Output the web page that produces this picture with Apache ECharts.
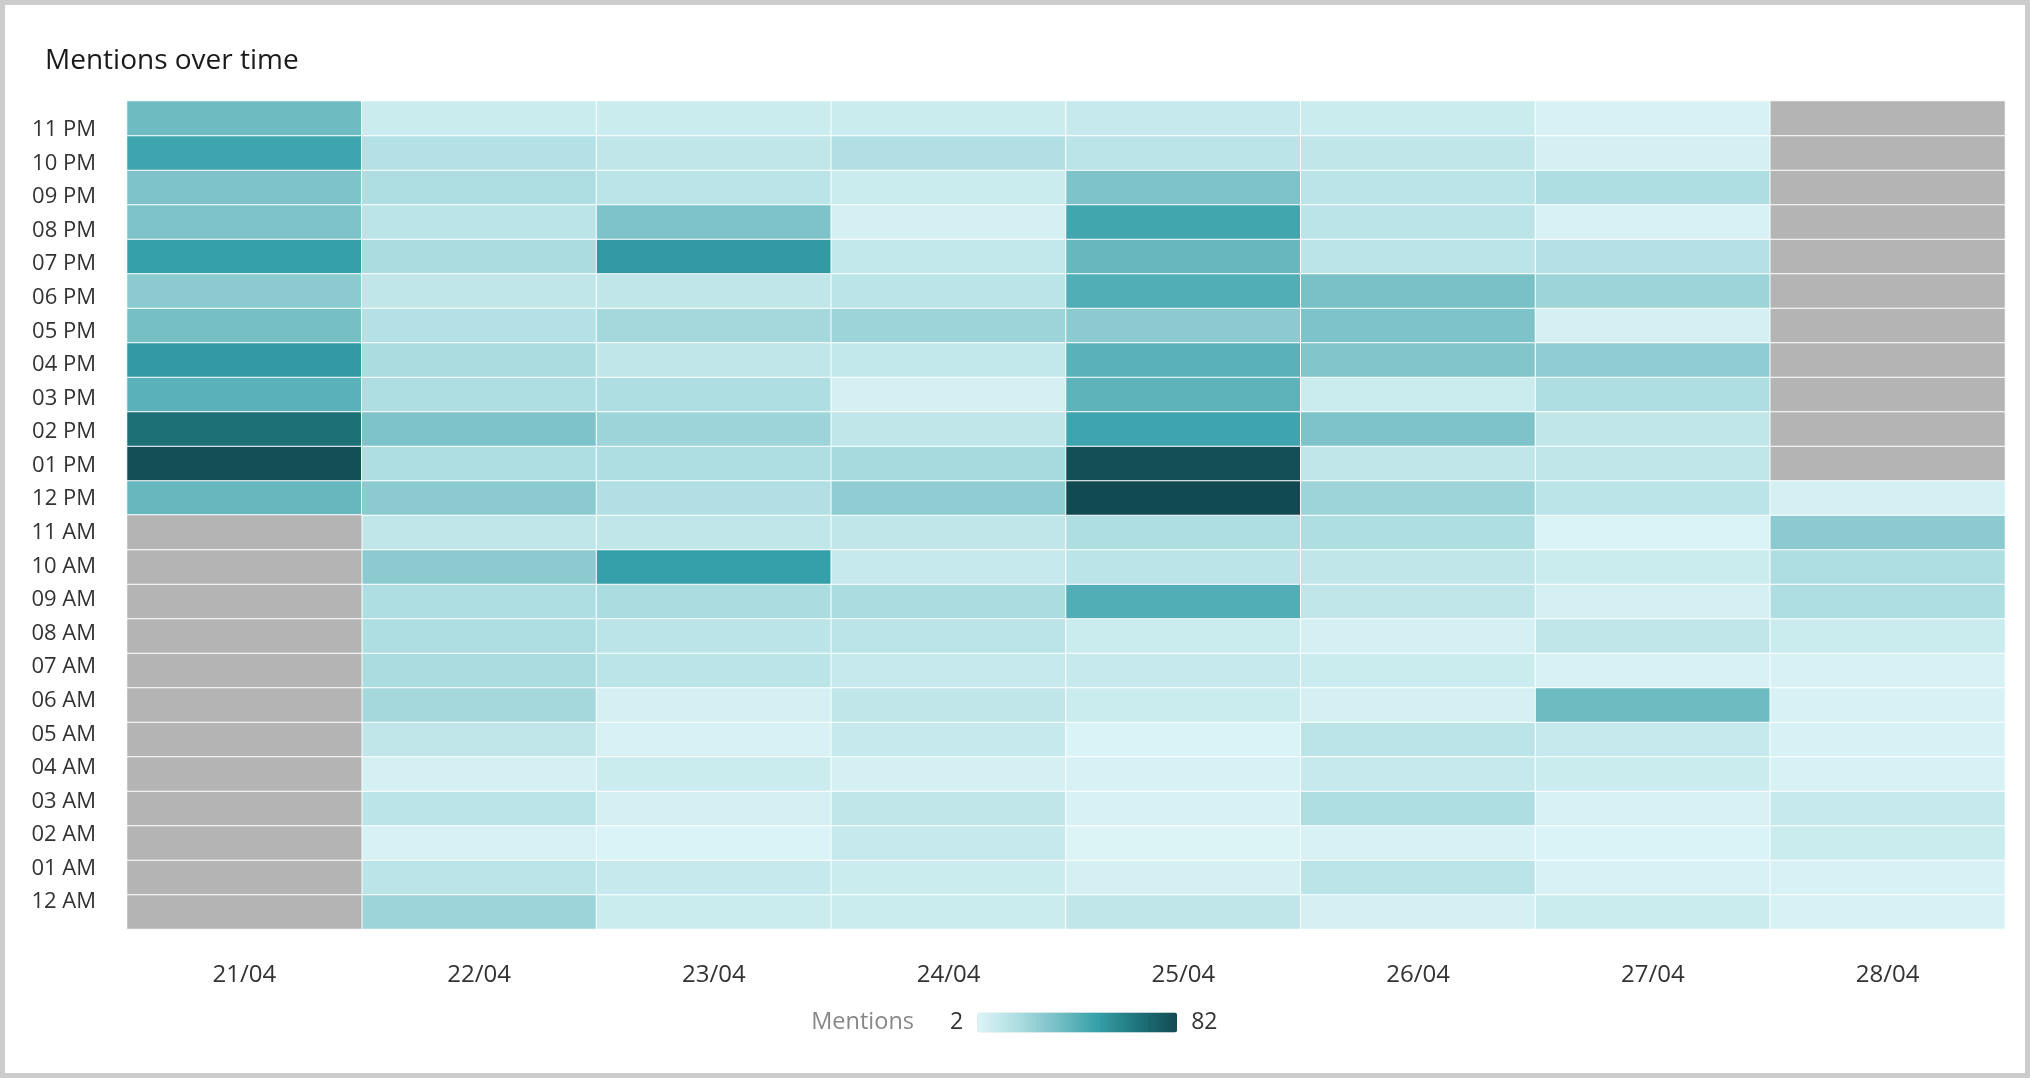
<!DOCTYPE html>
<html>
<head>
<meta charset="utf-8">
<script src="https://cdn.jsdelivr.net/npm/echarts@6/dist/echarts.min.js"></script>
<style>
html,body{margin:0;padding:0;background:#fff;}
#wrap{width:2030px;height:1078px;box-sizing:border-box;border:5px solid #cccccc;background:#fff;}
#chart{width:2020px;height:1068px;}
</style>
</head>
<body>
<div id="wrap"><div id="chart"></div></div>
<script>
// Day categories (x axis)
const days = ['21/04','22/04','23/04','24/04','25/04','26/04','27/04','28/04'];
// Hour categories (y axis), bottom to top
const hours = ['12 AM','01 AM','02 AM','03 AM','04 AM','05 AM','06 AM','07 AM','08 AM','09 AM','10 AM','11 AM',
               '12 PM','01 PM','02 PM','03 PM','04 PM','05 PM','06 PM','07 PM','08 PM','09 PM','10 PM','11 PM'];
// Mentions per hour for each day, from 12 AM to 11 PM (null = no data)
const d2104 = [null,null,null,null,null,null,null,null,null,null,null,null, 38,80,68,41,53,34,28,50,32,32,48,36];
const d2204 = [23,14,4,14,5,12,21,19,18,18,28,12, 28,18,32,18,19,16,12,19,14,18,16,8];
const d2304 = [8,10,3,5,8,4,5,14,14,19,50,12, 17,18,23,18,12,21,12,53,32,14,12,8];
const d2404 = [8,8,10,12,5,10,12,10,14,19,10,12, 27,20,12,5,11,23,14,11,5,8,17,8];
const d2504 = [12,5,2,4,4,3,8,10,8,43,14,18, 82,80,48,40,41,28,43,38,47,32,14,10];
const d2604 = [5,14,4,18,10,14,5,8,5,12,12,18, 23,12,32,8,31,32,33,14,14,14,12,8];
const d2704 = [8,4,3,4,8,10,36,4,12,5,8,3, 14,12,12,18,27,5,23,16,4,18,5,4];
const d2804 = [4,4,8,10,4,4,4,4,8,18,18,28, 5,null,null,null,null,null,null,null,null,null,null,null];
const columns = [d2104,d2204,d2304,d2404,d2504,d2604,d2704,d2804];
const valueMin = 2, valueMax = 82;

const cells = [], missing = [];
columns.forEach((col, x) => {
  col.forEach((v, y) => {
    if (v === null) missing.push([x, y, 0]);
    else cells.push([x, y, v]);
  });
});

const FONT = 'Open Sans';
const chart = echarts.init(document.getElementById('chart'));
chart.setOption({
  animation: false,
  textStyle: {fontFamily: FONT},
  title: {
    text: 'Mentions over time', left: 35, top: 37,
    textStyle: {fontFamily: FONT, fontSize: 28, fontWeight: 'normal', color: '#1a1a1a'}
  },
  grid: [
    {left: 122, top: 96, width: 1878, height: 828},
    {left: 122, top: 108, width: 1878, height: 806}
  ],
  xAxis: [
    {type: 'category', data: days, gridIndex: 0,
     axisLine: {show: false}, axisTick: {show: false}, splitArea: {show: false},
     axisLabel: {fontFamily: FONT, fontSize: 24, color: '#333', margin: 34}},
    {type: 'category', data: days, gridIndex: 1, show: false}
  ],
  yAxis: [
    {type: 'category', data: hours, gridIndex: 0, axisLabel: {show: false},
     axisLine: {show: false}, axisTick: {show: false}, splitArea: {show: false}},
    {type: 'category', data: hours, gridIndex: 1,
     axisLine: {show: false}, axisTick: {show: false}, splitLine: {show: false},
     axisLabel: {fontFamily: FONT, fontSize: 22, color: '#333', margin: 31}}
  ],
  visualMap: {
    type: 'continuous', seriesIndex: 0, min: valueMin, max: valueMax,
    orient: 'horizontal', left: 930, top: 991,
    itemWidth: 20, itemHeight: 200, calculable: false,
    text: [String(valueMax), String(valueMin)], textGap: 14,
    textStyle: {fontFamily: FONT, fontSize: 23, color: '#333'},
    inRange: {color: ['#ddf4f7','#aedee2','#76bfc5','#36a0aa','#1f747b','#124a52']}
  },
  graphic: [{
    type: 'text', right: 1111, top: 1005,
    style: {text: 'Mentions', fontFamily: FONT, fontSize: 23.5, fill: '#888'}
  }],
  series: [
    {type: 'heatmap', data: cells, xAxisIndex: 0, yAxisIndex: 0,
     itemStyle: {borderColor: '#fff', borderWidth: 1}, emphasis: {disabled: true}},
    {type: 'heatmap', data: missing, xAxisIndex: 0, yAxisIndex: 0,
     itemStyle: {color: '#b4b4b4', borderColor: '#fff', borderWidth: 1}, emphasis: {disabled: true}}
  ]
});
</script>
</body>
</html>
